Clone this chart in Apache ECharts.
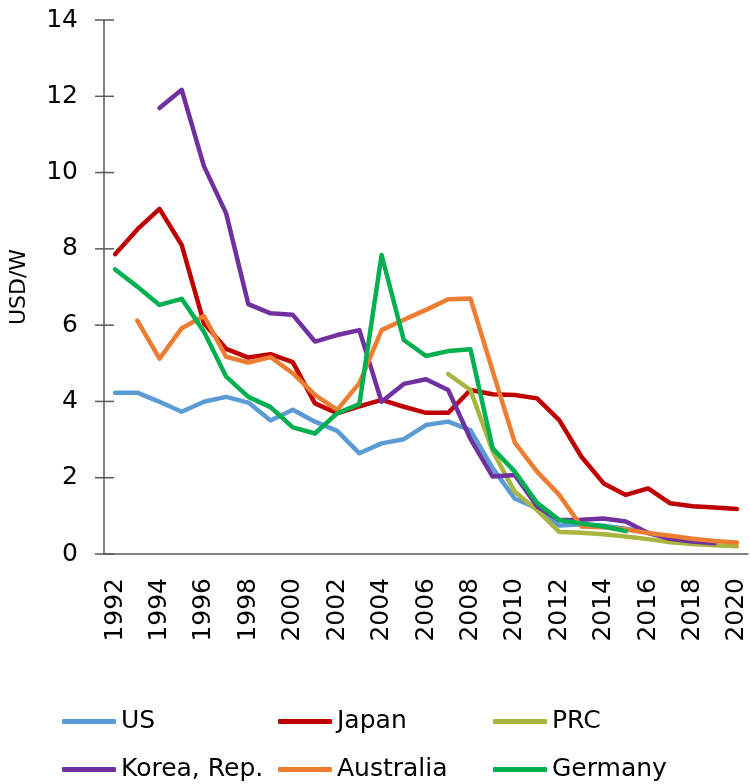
<!DOCTYPE html>
<html><head><meta charset="utf-8">
<script src="https://cdn.jsdelivr.net/npm/echarts@6/dist/echarts.min.js"></script>
<style>html,body{margin:0;padding:0;background:#fff}#c{width:750px;height:784px}</style>
</head><body><div id="c"></div>
<script>
const years = ['1992','1993','1994','1995','1996','1997','1998','1999','2000','2001','2002','2003','2004','2005','2006','2007','2008','2009','2010','2011','2012','2013','2014','2015','2016','2017','2018','2019','2020'];
const us = [4.23,4.23,3.99,3.73,3.99,4.12,3.97,3.50,3.78,3.47,3.23,2.64,2.90,3.01,3.38,3.47,3.25,2.25,1.45,1.20,0.75,0.78,0.74,0.66,0.56,null,null,null,null];
const japan = [7.86,8.51,9.05,8.10,6.05,5.38,5.15,5.24,5.03,3.95,3.69,3.87,4.04,3.86,3.70,3.70,4.30,4.19,4.17,4.08,3.51,2.55,1.85,1.55,1.72,1.33,1.25,1.22,1.18];
const prc = [null,null,null,null,null,null,null,null,null,null,null,null,null,null,null,4.72,4.30,2.70,1.63,1.15,0.58,0.56,0.52,0.46,0.39,0.31,0.26,0.23,0.20];
const korea = [null,null,11.69,12.17,10.17,8.93,6.55,6.31,6.27,5.57,5.74,5.87,3.99,4.46,4.58,4.30,3.02,2.03,2.07,1.25,0.89,0.90,0.93,0.85,0.55,0.40,0.33,0.28,null];
const australia = [null,6.12,5.12,5.92,6.24,5.17,5.02,5.16,4.74,4.17,3.78,4.48,5.87,6.14,6.40,6.68,6.70,4.80,2.92,2.16,1.55,0.72,0.70,0.64,0.55,0.48,0.40,0.34,0.30];
const germany = [7.46,7.01,6.53,6.69,5.83,4.65,4.12,3.85,3.32,3.16,3.69,3.93,7.84,5.61,5.19,5.32,5.37,2.77,2.16,1.34,0.89,0.80,0.72,0.60,null,null,null,null,null];
const yTicks = [0,2,4,6,8,10,12,14];

const FONT = '"DejaVu Sans", sans-serif';
const names = ['US','Japan','PRC','Korea, Rep.','Australia','Germany'];
const colors = ['#5B9BD5','#C00000','#A9B53E','#7030A0','#ED7D31','#00B050'];
const datas = [us, japan, prc, korea, australia, germany];
const legendPos = [[62,709],[278,709],[493,709],[62,757],[278,757],[493,757]];
const AXIS_COLOR = '#595959';

const chart = echarts.init(document.getElementById('c'), null, {renderer:'canvas'});
const lineSeries = names.map((n,i)=>({
  name:n, type:'line', data:datas[i],
  showSymbol:false, symbol:'none', connectNulls:false,
  lineStyle:{width:4.5, color:colors[i], cap:'round', join:'round'},
  itemStyle:{color:colors[i]}
}));
// cross-shaped y ticks (extend both sides of axis line), positioned via axis scales
const tickSeries = {
  type:'custom', silent:true, clip:false, z:5,
  data: yTicks.map(v=>[0,v]),
  encode:{x:0, y:1},
  renderItem:(params, api)=>{
    const c = api.coord([0, api.value(1)]);
    const bw = api.size([1,0])[0];
    const x0 = c[0] - bw/2;
    return {type:'line', shape:{x1:x0-9, y1:c[1], x2:x0+10, y2:c[1]},
            style:{stroke:AXIS_COLOR, lineWidth:1.5}};
  }
};
chart.setOption({
  animation:false,
  backgroundColor:'#fff',
  color: colors,
  grid:{left:104, right:2, top:20, bottom:230, containLabel:false, outerBoundsMode:'none'},
  legend: names.map((n,i)=>({
    left:legendPos[i][0], top:legendPos[i][1], data:[n], padding:0,
    itemWidth:54, itemHeight:5, icon:'roundRect', selectedMode:false,
    textStyle:{fontFamily:FONT, fontSize:25, color:'#000'}
  })),
  xAxis:{
    type:'category', data:years, boundaryGap:true,
    axisLine:{lineStyle:{color:AXIS_COLOR, width:1.5}},
    axisTick:{show:false},
    axisLabel:{interval:1, rotate:90, margin:24, fontFamily:FONT, fontSize:25, color:'#000'}
  },
  yAxis:{
    type:'value', min:yTicks[0], max:yTicks[yTicks.length-1], interval:2,
    name:'USD/W', nameLocation:'middle', nameGap:74, nameRotate:90,
    nameTextStyle:{fontFamily:FONT, fontSize:22, color:'#000'},
    axisLine:{show:true, lineStyle:{color:AXIS_COLOR, width:1.5}},
    axisTick:{show:false},
    axisLabel:{margin:26, fontFamily:FONT, fontSize:25, color:'#000'},
    splitLine:{show:false}
  },
  series: lineSeries.concat([tickSeries])
});
</script></body></html>
